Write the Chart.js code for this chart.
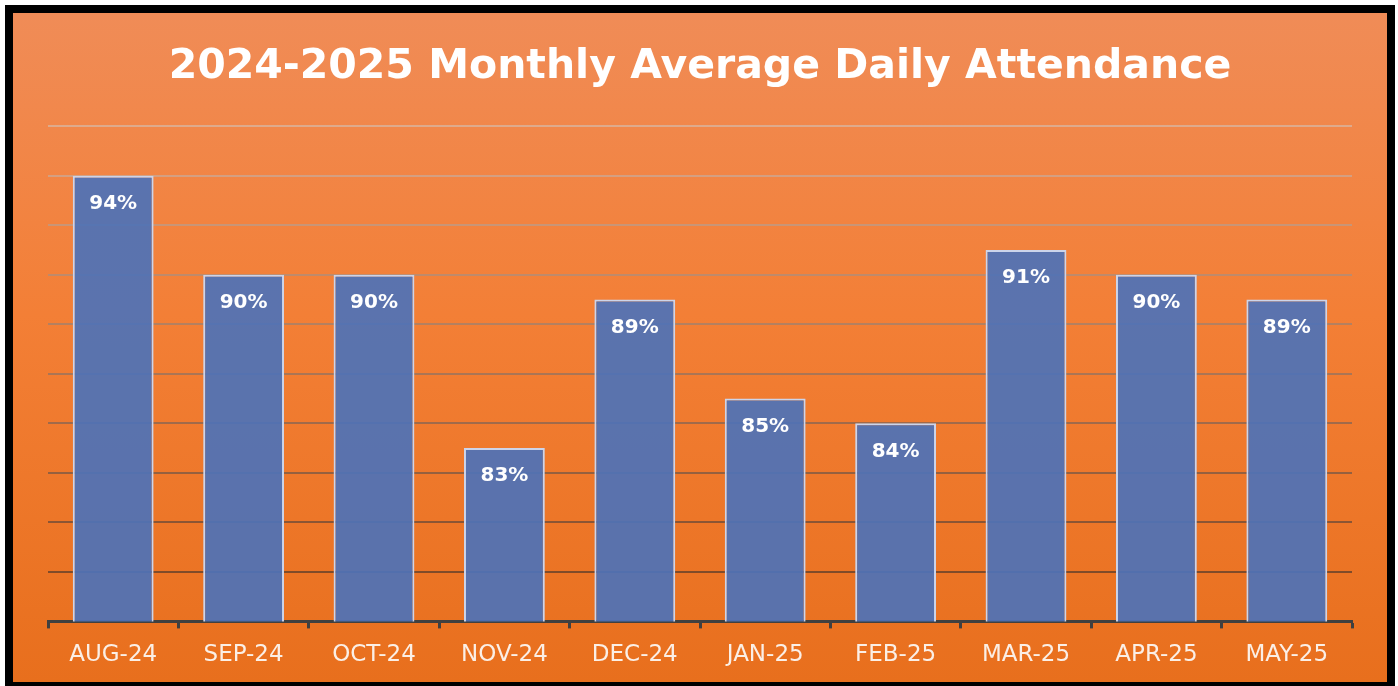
<!DOCTYPE html>
<html>
<head>
<meta charset="utf-8">
<title>2024-2025 Monthly Average Daily Attendance</title>
<script src="https://cdn.jsdelivr.net/npm/chart.js@4.4.0/dist/chart.umd.min.js"></script>
<style>
  html, body { margin: 0; padding: 0; background: #fff; overflow: hidden; }
  #frame {
    position: absolute; left: 5px; top: 5px;
    width: 1374px; height: 669px;
    border: 8px solid #000;
    background: linear-gradient(to bottom, #f08c57 0%, #f37f36 45%, #e86f1d 100%);
  }
  canvas { display: block; }
</style>
</head>
<body>
<div id="frame"><canvas id="attChart" width="1374" height="669"></canvas></div>
<script>
// dados
const months = ["AUG-24", "SEP-24", "OCT-24", "NOV-24", "DEC-24", "JAN-25", "FEB-25", "MAR-25", "APR-25", "MAY-25"];
const attendance = [94, 90, 90, 83, 89, 85, 84, 91, 90, 89];
const yMin = 76;
const yMax = 96;
const yStep = 2;

// gridlines go from dark brown at the bottom to pale at the top
const gridColor = (ctx) => {
  const t = ctx.index / 10;
  const lo = [118, 64, 30];
  const hi = [222, 170, 140];
  const c = lo.map((v, k) => Math.round(v + (hi[k] - v) * t));
  return `rgb(${c[0]},${c[1]},${c[2]})`;
};

// rótulos dentro das barras
const barLabels = {
  id: "barLabels",
  afterDatasetsDraw(chart) {
    const ctx = chart.ctx;
    const meta = chart.getDatasetMeta(0);
    ctx.save();
    ctx.font = "bold 20px 'DejaVu Sans'";
    ctx.fillStyle = "#ffffff";
    ctx.textAlign = "center";
    ctx.textBaseline = "middle";
    meta.data.forEach((bar, i) => {
      ctx.fillText(attendance[i] + "%", bar.x, bar.y + 28);
    });
    ctx.restore();
  },
};

const ctx = document.getElementById("attChart").getContext("2d");
new Chart(ctx, {
  type: "bar",
  data: {
    labels: months,
    datasets: [
      {
        data: attendance,
        backgroundColor: "rgba(79,114,183,0.93)",
        borderColor: "#ccd4ea",
        borderWidth: 2,
        barPercentage: 0.62,
        categoryPercentage: 1,
      },
    ],
  },
  options: {
    responsive: false,
    animation: false,
    layout: { padding: { left: 35, right: 35, top: 0, bottom: 0 } },
    plugins: {
      legend: { display: false },
      tooltip: { enabled: false },
      title: {
        display: true,
        text: "2024-2025 Monthly Average Daily Attendance",
        color: "#ffffff",
        font: { family: "DejaVu Sans", size: 41, weight: "bold" },
        padding: { top: 30, bottom: 34 },
      },
    },
    scales: {
      x: {
        grid: {
          offset: true,
          drawOnChartArea: false,
          drawTicks: true,
          tickLength: 7,
          tickColor: "#404040",
          tickWidth: 3,
        },
        border: { display: true, color: "#404040", width: 3 },
        ticks: {
          color: "#fbefe6",
          font: { family: "DejaVu Sans", size: 23 },
          padding: 13,
        },
      },
      y: {
        min: yMin,
        max: yMax,
        ticks: { stepSize: yStep, display: false },
        grid: { color: gridColor, lineWidth: 2, drawTicks: false },
        border: { display: false },
      },
    },
  },
  plugins: [barLabels],
});
</script>
</body>
</html>
